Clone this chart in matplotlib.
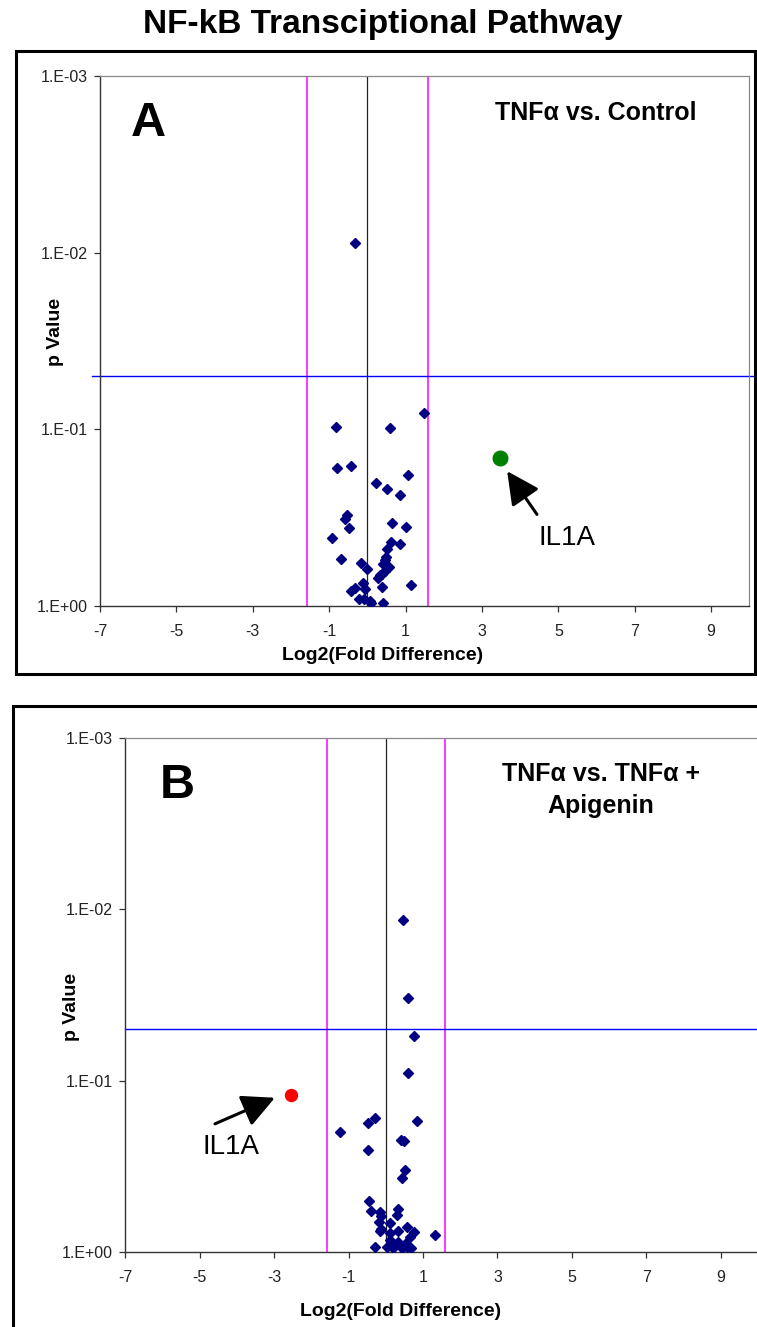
import matplotlib
matplotlib.use('Agg')
import matplotlib.pyplot as plt
from matplotlib.patches import Rectangle

W, H, DPI = 757, 1327, 100

# ---------------- data ----------------
a_log2fc = [-0.33, 1.47, -0.81, 0.58, -0.79, -0.42, 1.06, 0.22, 0.52, 0.85,
            -0.53, -0.59, -0.49, 0.65, 1.01, -0.92, 0.61, 0.86, 0.52, -0.68,
            -0.16, -0.01, 0.47, 0.41, 0.56, 0.47, 0.38, 0.28, 0.38, 1.13,
            -0.11, -0.05, -0.33, -0.42, -0.23, -0.10, 0.10, 0.40, 0.08, 0.49, 0.33]
a_pval = [0.0088, 0.081, 0.097, 0.099, 0.165, 0.161, 0.182, 0.201, 0.217, 0.236,
          0.308, 0.322, 0.362, 0.342, 0.356, 0.416, 0.435, 0.448, 0.480, 0.542,
          0.571, 0.621, 0.549, 0.584, 0.605, 0.640, 0.659, 0.695, 0.785, 0.766,
          0.742, 0.801, 0.792, 0.828, 0.914, 0.922, 0.963, 0.963, 0.935, 0.53, 0.67]
a_il1a_fc, a_il1a_p = 3.46, 0.145

b_log2fc = [0.46, 0.61, 0.77, 0.61, 0.85, -0.30, -0.49, -1.22, 0.40, 0.49,
            -0.47, 0.51, 0.43, -0.44, -0.39, -0.15, -0.13, 0.33, 0.31, -0.18,
            0.10, -0.13, -0.15, 0.33, 0.58, 0.75, 1.31, 0.10, 0.65, 0.10,
            0.34, -0.30, 0.04, 0.20, 0.43, 0.56, 0.68, 0.16, 0.55]
b_pval = [0.0115, 0.0328, 0.0547, 0.0908, 0.172, 0.166, 0.177, 0.201, 0.223, 0.226,
          0.256, 0.332, 0.373, 0.506, 0.581, 0.586, 0.619, 0.564, 0.611, 0.669,
          0.677, 0.738, 0.755, 0.755, 0.718, 0.771, 0.796, 0.781, 0.825, 0.855,
          0.875, 0.936, 0.944, 0.956, 0.956, 0.944, 0.956, 0.914, 0.893]
b_il1a_fc, b_il1a_p = -2.56, 0.121

fc_cut = 1.585
p_cut = 0.05
xticks = [-7, -5, -3, -1, 1, 3, 5, 7, 9]
yticks = [1e-3, 1e-2, 1e-1, 1]
ytick_labels = ['1.E-03', '1.E-02', '1.E-01', '1.E+00']

title = 'NF-kB Transciptional Pathway'
xlabel = 'Log2(Fold Difference)'
ylabel = 'p Value'
cmp_a = 'TNFα vs. Control'
cmp_b = 'TNFα vs. TNFα +\nApigenin'

# ---------------- figure ----------------
plt.rcParams['font.family'] = ['Liberation Sans', 'DejaVu Sans']
fig = plt.figure(figsize=(W / DPI, H / DPI), dpi=DPI)

def fx(x):
    return x / W

def fy(y):
    return 1 - y / H

def add_ax(l, t, r, b):
    return fig.add_axes([fx(l), fy(b), (r - l) / W, (b - t) / H])

# outer frames
fig.patches.append(Rectangle((fx(15.7), fy(674)), (755 - 15.7) / W, (674 - 51) / H,
                             transform=fig.transFigure, fill=False, lw=2.2,
                             edgecolor='black', clip_on=False))
fig.patches.append(Rectangle((fx(13.3), fy(1400)), (800 - 13.3) / W, (1400 - 706) / H,
                             transform=fig.transFigure, fill=False, lw=2.2,
                             edgecolor='black', clip_on=False))

fig.text(fx(383), fy(25), title, ha='center', va='center',
         fontsize=24, fontweight='bold')


def style(ax, right_spine=True, blue_x0=-7.0):
    ax.set_yscale('log')
    ax.set_xlim(-7, 10)
    ax.set_ylim(1, 1e-3)
    ax.set_xticks(xticks)
    ax.set_xticklabels([str(t) for t in xticks])
    ax.set_yticks(yticks)
    ax.set_yticklabels(ytick_labels)
    ax.yaxis.set_minor_locator(matplotlib.ticker.NullLocator())
    ax.tick_params(direction='out', length=4, width=0.9, colors='#333333',
                   labelsize=11.5, labelcolor='#222222')
    ax.tick_params(axis='x', pad=9)
    ax.tick_params(axis='y', pad=5)
    for s in ['left', 'bottom']:
        ax.spines[s].set_color('#333333')
        ax.spines[s].set_linewidth(1.0)
    ax.spines['top'].set_color('#888888')
    ax.spines['top'].set_linewidth(0.9)
    if right_spine:
        ax.spines['right'].set_color('#888888')
        ax.spines['right'].set_linewidth(0.9)
    else:
        ax.spines['right'].set_visible(False)
    ax.axvline(0, color='#222222', lw=0.9, zorder=1)
    ax.axvline(-fc_cut, color='#FF00FF', lw=1.1, zorder=1)
    ax.axvline(fc_cut, color='#FF00FF', lw=1.1, zorder=1)
    ax.plot([blue_x0, 10.3], [p_cut, p_cut], color='#0000FF', lw=1.0,
            clip_on=False, zorder=1)


ARROW = dict(arrowstyle='-|>,head_length=1.0,head_width=0.5',
             mutation_scale=20, lw=2.2, color='black', shrinkA=0, shrinkB=0)

# ---------------- panel A ----------------
axA = add_ax(100, 76, 749.3, 605.7)
style(axA, right_spine=True, blue_x0=-7.2)
axA.plot(a_log2fc, a_pval, linestyle='none', marker='D', ms=5,
         color='#000080', zorder=3)
axA.plot([a_il1a_fc], [a_il1a_p], linestyle='none', marker='o', ms=10.5,
         color='#008000', zorder=4)
axA.annotate('', xy=(3.66, 0.173), xytext=(4.44, 0.304), arrowprops=ARROW)
axA.text(5.23, 0.412, 'IL1A', ha='center', va='center', fontsize=20)

fig.text(fx(148), fy(124), 'A', ha='center', va='center', fontsize=35,
         fontweight='bold')
fig.text(fx(596), fy(113), cmp_a, ha='center', va='center', fontsize=18,
         fontweight='bold')
fig.text(fx(55.5), fy(332), ylabel, ha='center', va='center', rotation=90,
         fontsize=14, fontweight='bold')
fig.text(fx(383), fy(655), xlabel, ha='center', va='center',
         fontsize=14, fontweight='bold')

# ---------------- panel B ----------------
axB = add_ax(125.3, 738.3, 757.9, 1251.7)
style(axB, right_spine=False, blue_x0=-7.0)
axB.plot(b_log2fc, b_pval, linestyle='none', marker='D', ms=5,
         color='#000080', zorder=3)
axB.plot([b_il1a_fc], [b_il1a_p], linestyle='none', marker='o', ms=8.6,
         color='#FF0000', zorder=4)
axB.annotate('', xy=(-2.98, 0.126), xytext=(-4.59, 0.179), arrowprops=ARROW)
axB.text(-4.17, 0.245, 'IL1A', ha='center', va='center', fontsize=20)

fig.text(fx(177.5), fy(786), 'B', ha='center', va='center', fontsize=35,
         fontweight='bold')
fig.text(fx(601), fy(790), cmp_b, ha='center', va='center', fontsize=18,
         fontweight='bold', linespacing=1.45)
fig.text(fx(72), fy(1007), ylabel, ha='center', va='center', rotation=90,
         fontsize=14, fontweight='bold')
fig.text(fx(401), fy(1311), xlabel, ha='center', va='center',
         fontsize=14, fontweight='bold')

fig.savefig('out.png', dpi=DPI)
